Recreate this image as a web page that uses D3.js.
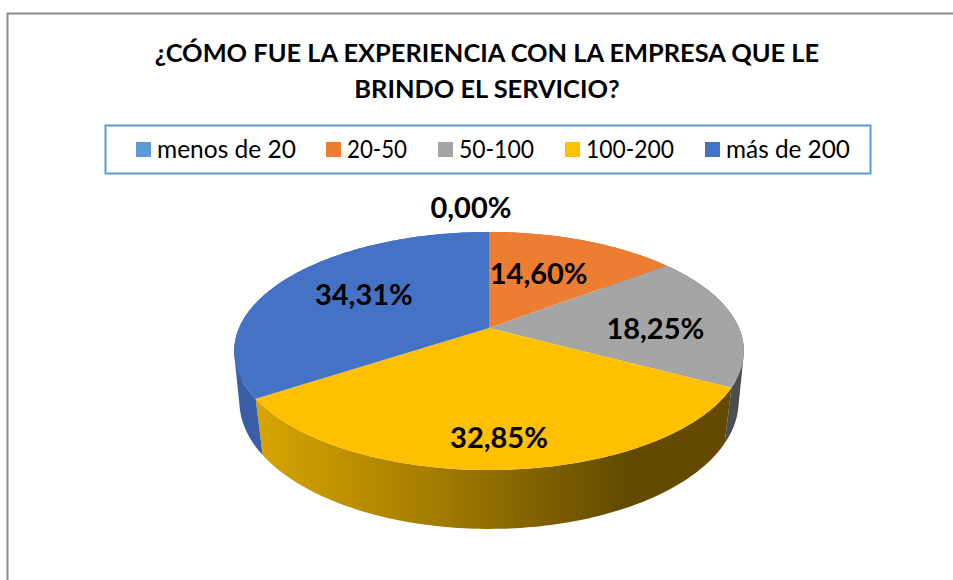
<!DOCTYPE html>
<html>
<head>
<meta charset="utf-8">
<script src="https://cdn.jsdelivr.net/npm/d3@7"></script>
<style>
  html, body { margin: 0; padding: 0; background: #fff; }
  svg { display: block; }
  text { font-family: Lato, "Open Sans", sans-serif; fill: #000; }
</style>
</head>
<body>
<svg width="953" height="580"></svg>
<script>
var titleLines = ["¿CÓMO FUE LA EXPERIENCIA CON LA EMPRESA QUE LE", "BRINDO EL SERVICIO?"];
var categories = ["menos de 20", "20-50", "50-100", "100-200", "más de 200"];
var values = [0, 14.60, 18.25, 32.85, 34.31];
var labels = ["0,00%", "14,60%", "18,25%", "32,85%", "34,31%"];

var topColors = ["#5b9bd5", "#ed7d31", "#a5a5a5", "#ffc000", "#4472c4"];
var sideColors = ["#4a7fb0", "#b45f25", "#4a4d52", "url(#yellowSide)", "#3a5fa8"];

// legend layout, x of each swatch and width of each text
var legendX = [136, 326, 438, 565, 705];
var legendTextWidth = [139, 60, 75, 88, 124];
// label nudge from the projected slice centroid
var labelNudge = [[-18, -24], [-15, 6], [6, 7], [1.5, 25], [10, 0]];
var labelRadius = [1, .65, .65, .65, .65];

var svg = d3.select("svg");

// chart frame, only top and left show in the picture
svg.append("path")
  .attr("d", "M7.5,580V13.5H953")
  .attr("fill", "none")
  .attr("stroke", "#8a8a8a")
  .attr("stroke-width", 2);

svg.selectAll("text.title")
  .data(titleLines)
  .enter()
  .append("text")
  .attr("class", "title")
  .attr("x", 487)
  .attr("y", function (d, i) { return 62 + i * 36; })
  .attr("text-anchor", "middle")
  .attr("font-size", 25.4)
  .attr("font-weight", 700)
  .text(function (d) { return d; });

svg.append("rect")
  .attr("x", 105.5)
  .attr("y", 125.5)
  .attr("width", 765)
  .attr("height", 48)
  .attr("fill", "#fff")
  .attr("stroke", "#5b9bd5")
  .attr("stroke-width", 2);

var legend = svg.selectAll("g.legend")
  .data(categories)
  .enter()
  .append("g")
  .attr("class", "legend")
  .attr("transform", function (d, i) { return "translate(" + legendX[i] + ",142)"; });

legend.append("rect")
  .attr("width", 15)
  .attr("height", 15)
  .attr("fill", function (d, i) { return topColors[i]; });

legend.append("text")
  .attr("x", 21)
  .attr("y", 15.5)
  .attr("font-size", 25)
  .attr("textLength", function (d, i) { return legendTextWidth[i]; })
  .attr("lengthAdjust", "spacingAndGlyphs")
  .text(function (d) { return d; });

// perspective projection of the unit circle onto the top and bottom plane
var topPlane = { cx: 489, cy: 328, a: 250, b: 114.6, k: .1933 };
var bottomPlane = { cx: 489, cy: 379.5, a: 246, b: 124, k: .17 };

function project(plane, angle, r) {
  var u = r * Math.sin(angle);
  var v = -r * Math.cos(angle);
  var w = 1 - plane.k * v;
  return [plane.cx + plane.a * u / w, plane.cy + plane.b * v / w];
}

var pie = d3.pie().sort(null).value(function (d) { return d; });
var slices = pie(values);

var defs = svg.append("defs");
var grad = defs.append("linearGradient")
  .attr("id", "yellowSide")
  .attr("gradientUnits", "userSpaceOnUse")
  .attr("x1", 262).attr("x2", 625).attr("y1", 0).attr("y2", 0);
grad.append("stop").attr("offset", 0).attr("stop-color", "#d6a400");
grad.append("stop").attr("offset", .5).attr("stop-color", "#a07a00");
grad.append("stop").attr("offset", 1).attr("stop-color", "#634a00");

var line = d3.line();
var step = Math.PI / 180;

function arcAngles(s) {
  var n = Math.max(1, Math.ceil((s.endAngle - s.startAngle) / step));
  return d3.range(n + 1).map(function (i) {
    return s.startAngle + (s.endAngle - s.startAngle) * i / n;
  });
}

// side wall, thin quads in one path, all wound the same way so nonzero fill has no seams
svg.append("g")
  .selectAll("path")
  .data(slices.filter(function (s) { return s.value > 0; }))
  .enter()
  .append("path")
  .attr("d", function (s) {
    return d3.pairs(arcAngles(s)).map(function (p) {
      var quad = [
        project(topPlane, p[0], 1),
        project(topPlane, p[1], 1),
        project(bottomPlane, p[1], 1),
        project(bottomPlane, p[0], 1)
      ];
      if (d3.polygonArea(quad) < 0) quad.reverse();
      return line(quad) + "Z";
    }).join("");
  })
  .attr("fill", function (s) { return sideColors[s.index]; });

svg.append("g")
  .selectAll("path")
  .data(slices)
  .enter()
  .append("path")
  .attr("d", function (s) {
    var pts = arcAngles(s).map(function (a) { return project(topPlane, a, 1); });
    pts.unshift([topPlane.cx, topPlane.cy]);
    return line(pts) + "Z";
  })
  .attr("fill", function (s, i) { return topColors[i]; });

svg.selectAll("text.value")
  .data(slices)
  .enter()
  .append("text")
  .attr("class", "value")
  .attr("transform", function (s, i) {
    var p = project(topPlane, (s.startAngle + s.endAngle) / 2, labelRadius[i]);
    return "translate(" + (p[0] + labelNudge[i][0]) + "," + (p[1] + labelNudge[i][1]) + ")";
  })
  .attr("text-anchor", "middle")
  .attr("dy", ".35em")
  .attr("font-size", 29)
  .attr("font-weight", 700)
  .text(function (s, i) { return labels[i]; });
</script>
</body>
</html>
